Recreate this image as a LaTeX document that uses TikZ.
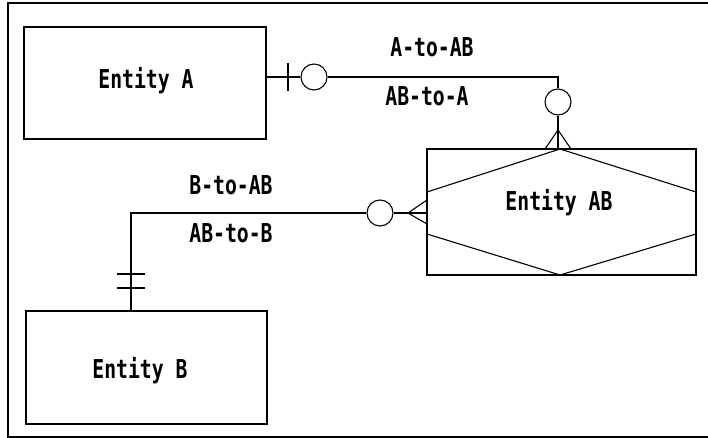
\documentclass[tikz,border=0pt]{standalone}
\usepackage{fontspec}
\newfontfamily\dfont[FakeStretch=0.76]{DejaVu Sans Mono}
\begin{document}
\begin{tikzpicture}[x=1pt,y=-1pt,
  entbox/.style={draw,line width=1.3pt,rectangle,inner sep=0pt},
  ring/.style={draw,line width=1.1pt,circle,minimum size=26pt,inner sep=0pt},
  lbl/.style={font=\dfont\bfseries\fontsize{26}{30}\selectfont,anchor=base,inner sep=0pt},
  conn/.style={line width=1.1pt}]
\useasboundingbox (0,0) rectangle (708,438);
% outer frame
\draw[line width=2pt] (708,3) -- (8,3) -- (8,437) -- (708,437);
% entities
\node[entbox,minimum width=242pt,minimum height=112pt] (A) at (145,83) {};
\node[entbox,minimum width=241pt,minimum height=113pt] (B) at (146.5,367.5) {};
\node[entbox,minimum width=269pt,minimum height=126pt] (AB) at (561.5,212) {};
% hexagon inside AB
\draw[conn] (427,192) -- (560,149) -- (696,192);
\draw[conn] (427,234) -- (560,275) -- (696,234);
% texts
\node[lbl] (tA) at (146,89) {Entity A};
\node[lbl] (tB) at (140,378) {Entity B};
\node[lbl] (tAB) at (559,211) {Entity AB};
\node[lbl] (l1) at (432,57) {A-to-AB};
\node[lbl] (l2) at (427,106) {AB-to-A};
\node[lbl] (l3) at (231,194) {B-to-AB};
\node[lbl] (l4) at (231,242) {AB-to-B};
% relationship A - AB
\coordinate (cA) at (558,77);
\coordinate (fA) at (558,130);
\node[ring] (oA1) at (314,77) {};
\node[ring] (oA2) at (558,102) {};
\draw[conn] (A.east |- cA) -- (oA1.west);
\draw[conn] (oA1.east) -- (cA) -- (oA2.north);
\draw[conn] (oA2.south) -- (oA2 |- AB.north);
\draw[conn] (288,63) -- (288,91);
\draw[conn] (545,149) -- (fA) -- (571,149);
% relationship B - AB
\coordinate (cB) at (131,213);
\coordinate (fB) at (408,213);
\node[ring] (oB) at (380,213) {};
\draw[conn] (AB.west |- fB) -- (oB.east);
\draw[conn] (427,200) -- (fB) -- (427,224);
\draw[conn] (oB.west) -- (cB) -- (cB |- B.north);
\draw[conn] (117,274) -- (145,274);
\draw[conn] (117,288) -- (145,288);
\end{tikzpicture}
\end{document}
